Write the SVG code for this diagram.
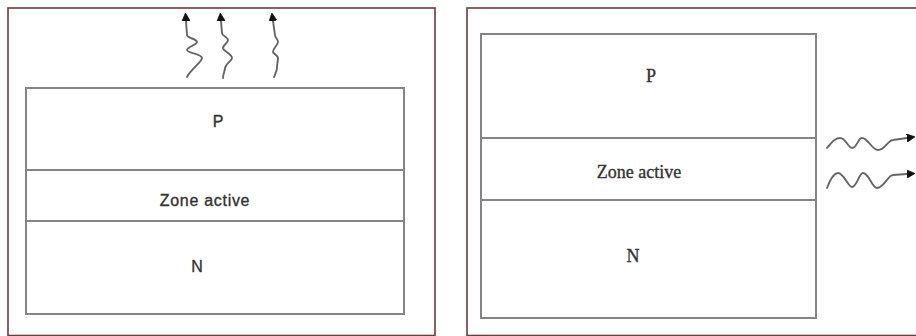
<svg xmlns="http://www.w3.org/2000/svg" width="916" height="336" viewBox="0 0 916 336">
<style>
.frame{fill:none;stroke:#6e3b3b;stroke-width:1.6}
.layer{fill:#ffffff;stroke:#858585;stroke-width:2}
.sans{font-family:"Liberation Sans",Arial,sans-serif;font-size:16px;fill:#333333;stroke:#333333;stroke-width:0.35;text-anchor:middle}
.serif{font-family:"Liberation Serif","Times New Roman",serif;font-size:18px;fill:#333333;stroke:#333333;stroke-width:0.35;text-anchor:middle}
.wave{fill:none;stroke:#666666;stroke-width:1.9;stroke-linecap:round;marker-end:url(#ah)}
</style>
<defs>
<marker id="ah" markerUnits="userSpaceOnUse" markerWidth="9" markerHeight="9" refX="0" refY="4.5" orient="auto">
<path d="M0,0.5 L8,4.5 L0,8.5 z" fill="#111" stroke="#111" stroke-width="0.8" stroke-linejoin="round"/>
</marker>
</defs>
<rect width="916" height="336" fill="#ffffff"/>
<g id="left-panel">
<rect class="frame" x="8" y="8" width="427" height="327.5"/>
</g>
<g id="left-P">
<rect class="layer" x="26" y="88" width="378" height="82"/>
<text class="sans" x="218" y="127">P</text>
</g>
<g id="left-active">
<rect class="layer" x="26" y="170" width="378" height="51"/>
<text class="sans" x="205" y="206" letter-spacing="0.7">Zone active</text>
</g>
<g id="left-N">
<rect class="layer" x="26" y="221" width="378" height="93"/>
<text class="sans" x="197" y="272">N</text>
</g>
<g id="right-panel">
<rect class="frame" x="467" y="8" width="460" height="327.5"/>
</g>
<g id="right-P">
<rect class="layer" x="481" y="34" width="335" height="104"/>
<text class="serif" x="651" y="82">P</text>
</g>
<g id="right-active">
<rect class="layer" x="481" y="138" width="335" height="62"/>
<text class="serif" x="639" y="178" font-size="17">Zone active</text>
</g>
<g id="right-N">
<rect class="layer" x="481" y="200" width="335" height="118"/>
<text class="serif" x="633" y="262">N</text>
</g>
<g id="connectors">
<path class="wave" d="M187,77 C190,70 202,62 202,58 C202,54 187,53 187,50 C187,47 197,45 197,42 C197,39 187,38 187,35 L186,21"/>
<path class="wave" d="M223,78 C223,74 225,71 225,68 C226,63 232,61 232,58 C232,54 223,51 223,48 C223,45 228,43 228,40 C228,37 222,36 222,33 L221,21"/>
<path class="wave" d="M274,77 C276,72 277,70 277,68 C277,63 278,61 278,58 C278,55 273,54 273,52 C273,48 278,45 278,42 C278,39 275,38 275,35 L273,21"/>
<path class="wave" d="M827,148 C832,142 835,138 840,138 C846,138 848,148 852,148 C857,148 858,138 862,138 C868,138 872,150 878,150 C885,150 888,140 893,140 L907,138"/>
<path class="wave" d="M827,188 C830,180 834,173 838,173 C844,173 848,187 852,187 C857,187 859,173 863,173 C869,173 872,188 877,188 C884,188 888,175 893,175 L907,174"/>
</g>
</svg>
